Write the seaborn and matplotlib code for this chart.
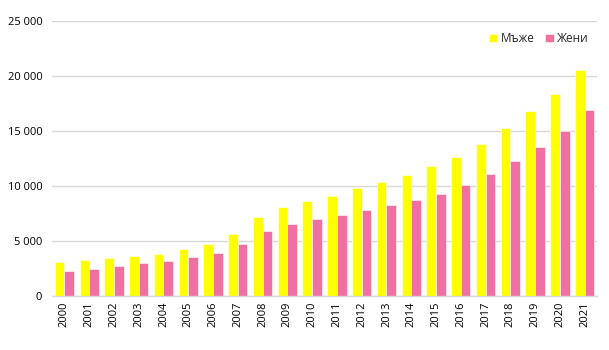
import matplotlib
matplotlib.use("Agg")
import matplotlib.pyplot as plt
import matplotlib.ticker as mticker
import seaborn as sns
import pandas as pd

years = [str(y) for y in range(2000, 2022)]
men = [3060, 3270, 3450, 3640, 3820, 4270, 4700, 5640, 7150, 8060, 8640,
       9090, 9790, 10330, 10970, 11790, 12640, 13820, 15270, 16850, 18360, 20550]
women = [2300, 2480, 2730, 2970, 3180, 3520, 3910, 4700, 5880, 6550, 7000,
         7360, 7790, 8270, 8760, 9300, 10090, 11060, 12240, 13550, 14970, 16910]
series_names = ["Мъже", "Жени"]
colors = ["#FFFF00", "#F070A1"]

df = pd.DataFrame({
    "year": years * 2,
    "value": men + women,
    "sex": [series_names[0]] * len(years) + [series_names[1]] * len(years),
})

sns.set_theme(style="white")
plt.rcParams["font.family"] = ["Open Sans", "DejaVu Sans"]

fig = plt.figure(figsize=(6.09, 3.5), dpi=100)
ax = fig.add_axes([0.0854, 0.154, 0.895, 0.786])

sns.barplot(data=df, x="year", y="value", hue="sex", palette=colors,
            width=0.78, edgecolor="white", linewidth=0.4, ax=ax, saturation=1)

ax.set_ylim(0, 25000)
ax.set_xlim(-0.5, len(years) - 0.5)
ax.yaxis.set_major_locator(mticker.MultipleLocator(5000))
ax.yaxis.set_major_formatter(mticker.FuncFormatter(lambda v, p: f"{int(v):,}".replace(",", " ")))
ax.grid(axis="y", color="#D9D9D9", linewidth=1)
ax.set_axisbelow(True)
for s in ["top", "right", "left"]:
    ax.spines[s].set_visible(False)
ax.spines["bottom"].set_color("#D9D9D9")
ax.spines["bottom"].set_linewidth(1)
ax.set_xlabel("")
ax.set_ylabel("")
ax.tick_params(axis="x", labelrotation=90, labelsize=8, length=0, pad=4, colors="#000000")
ax.tick_params(axis="y", labelsize=8, length=0, pad=7, colors="#000000")

leg = ax.legend(loc="upper right", bbox_to_anchor=(0.997, 0.985), ncol=2, frameon=False,
                fontsize=8.5, handlelength=0.75, handleheight=0.75, handletextpad=0.25,
                columnspacing=0.9, borderaxespad=0.2)

fig.savefig("out.png", dpi=100)
